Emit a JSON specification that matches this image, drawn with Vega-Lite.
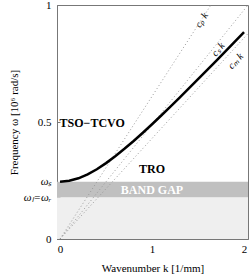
{
  "$schema": "https://vega.github.io/schema/vega-lite/v6.json",
  "autosize": "none",
  "width": 191,
  "height": 234,
  "padding": {"left": 57, "top": 5, "right": 1, "bottom": 36},
  "config": {
    "font": "Liberation Serif",
    "view": {"stroke": "#777", "strokeWidth": 1},
    "axis": {"grid": false, "domainColor": "#777", "tickColor": "#777", "labelFont": "Liberation Serif", "titleFont": "Liberation Serif", "labelFontSize": 11, "titleFontSize": 11, "titleFontWeight": "normal", "labelColor": "#000", "titleColor": "#000"}
  },
  "datasets": {
    "regions": [
      {"k0": -0.033, "k1": 2.043, "w0": 0, "w1": 0.178, "name": "light"},
      {"k0": -0.033, "k1": 2.043, "w0": 0.178, "w1": 0.245, "name": "gap"}
    ],
    "lines": [
      {"k": 0, "w": 0, "line": "cp"}, {"k": 1.64, "w": 1.0, "line": "cp"},
      {"k": 0, "w": 0, "line": "cs"}, {"k": 2.043, "w": 1.0, "line": "cs"},
      {"k": 0, "w": 0, "line": "cm"}, {"k": 2.043, "w": 0.878, "line": "cm"}
    ],
    "curve": [
      {"k": 0.0, "w": 0.245}, {"k": 0.1, "w": 0.2486}, {"k": 0.2, "w": 0.2593}, {"k": 0.3, "w": 0.2761},
      {"k": 0.4, "w": 0.2982}, {"k": 0.5, "w": 0.3243}, {"k": 0.6, "w": 0.3536}, {"k": 0.7, "w": 0.3854},
      {"k": 0.8, "w": 0.419}, {"k": 0.9, "w": 0.4542}, {"k": 1.0, "w": 0.4905}, {"k": 1.1, "w": 0.5278},
      {"k": 1.2, "w": 0.5657}, {"k": 1.3, "w": 0.6043}, {"k": 1.4, "w": 0.6434}, {"k": 1.5, "w": 0.6829},
      {"k": 1.6, "w": 0.7227}, {"k": 1.7, "w": 0.7628}, {"k": 1.8, "w": 0.8032}, {"k": 1.9, "w": 0.8438},
      {"k": 2.0, "w": 0.8845}
    ],
    "labels": [
      {"k": 0.35, "w": 0.495, "text": "TSO−TCVO"},
      {"k": 1.0, "w": 0.30, "text": "TRO"}
    ],
    "gaplabel": [{"k": 1.0, "w": 0.208, "text": "BAND GAP"}],
    "linelabels": [
      {"k": 1.54, "w": 0.935, "text": "cₚ k", "angle": -57},
      {"k": 1.72, "w": 0.81, "text": "cₛ k", "angle": -51},
      {"k": 1.91, "w": 0.76, "text": "cₘ k", "angle": -47}
    ]
  },
  "layer": [
    {
      "data": {"name": "regions"},
      "mark": {"type": "rect", "clip": true},
      "encoding": {
        "x": {"field": "k0", "type": "quantitative", "scale": {"domain": [-0.033, 2.043], "nice": false, "zero": false},
          "axis": {"values": [0, 1, 2], "title": "Wavenumber k [1/mm]", "tickSize": -3, "labelPadding": 7, "titlePadding": 8, "labelExpr": "format(datum.value, 'd')", "labelOverlap": false, "labelFlush": false, "labelBound": false}},
        "x2": {"field": "k1"},
        "y": {"field": "w0", "type": "quantitative", "scale": {"domain": [0, 1], "nice": false},
          "axis": {"values": [0, 0.178, 0.245, 0.5, 1], "title": "Frequency ω [10⁶ rad/s]", "tickSize": -3, "labelPadding": 9, "titlePadding": 4, "labelOverlap": false,
            "labelExpr": "datum.value == 0 ? '0' : datum.value == 0.178 ? 'ωₗ=ωᵣ' : datum.value == 0.245 ? 'ωₛ' : datum.value == 0.5 ? '0.5' : '1'",
            "labelFontStyle": {"condition": {"test": "datum.value > 0.1 && datum.value < 0.3", "value": "italic"}, "value": "normal"}}},
        "y2": {"field": "w1"},
        "color": {"field": "name", "type": "nominal", "scale": {"domain": ["light", "gap"], "range": ["#efefef", "#c0c0c0"]}, "legend": null}
      }
    },
    {
      "data": {"name": "lines"},
      "mark": {"type": "line", "color": "#999999", "strokeWidth": 1, "strokeDash": [1, 2.5], "clip": true},
      "encoding": {
        "x": {"field": "k", "type": "quantitative"},
        "y": {"field": "w", "type": "quantitative"},
        "detail": {"field": "line"}
      }
    },
    {
      "data": {"name": "curve"},
      "mark": {"type": "line", "color": "#000", "strokeWidth": 2.5, "clip": true},
      "encoding": {
        "x": {"field": "k", "type": "quantitative"},
        "y": {"field": "w", "type": "quantitative"}
      }
    },
    {
      "data": {"name": "labels"},
      "mark": {"type": "text", "font": "Liberation Serif", "fontSize": 12, "fontWeight": "bold", "color": "#000", "align": "center", "baseline": "middle"},
      "encoding": {
        "x": {"field": "k", "type": "quantitative"},
        "y": {"field": "w", "type": "quantitative"},
        "text": {"field": "text"}
      }
    },
    {
      "data": {"name": "gaplabel"},
      "mark": {"type": "text", "font": "Liberation Serif", "fontSize": 12, "fontWeight": "bold", "color": "#ffffff", "align": "center", "baseline": "middle"},
      "encoding": {
        "x": {"field": "k", "type": "quantitative"},
        "y": {"field": "w", "type": "quantitative"},
        "text": {"field": "text"}
      }
    },
    {
      "data": {"name": "linelabels"},
      "mark": {"type": "text", "font": "Liberation Serif", "fontSize": 10, "fontStyle": "italic", "color": "#000", "align": "center", "baseline": "middle"},
      "encoding": {
        "x": {"field": "k", "type": "quantitative"},
        "y": {"field": "w", "type": "quantitative"},
        "text": {"field": "text"},
        "angle": {"field": "angle", "type": "quantitative", "scale": null}
      }
    }
  ]
}
